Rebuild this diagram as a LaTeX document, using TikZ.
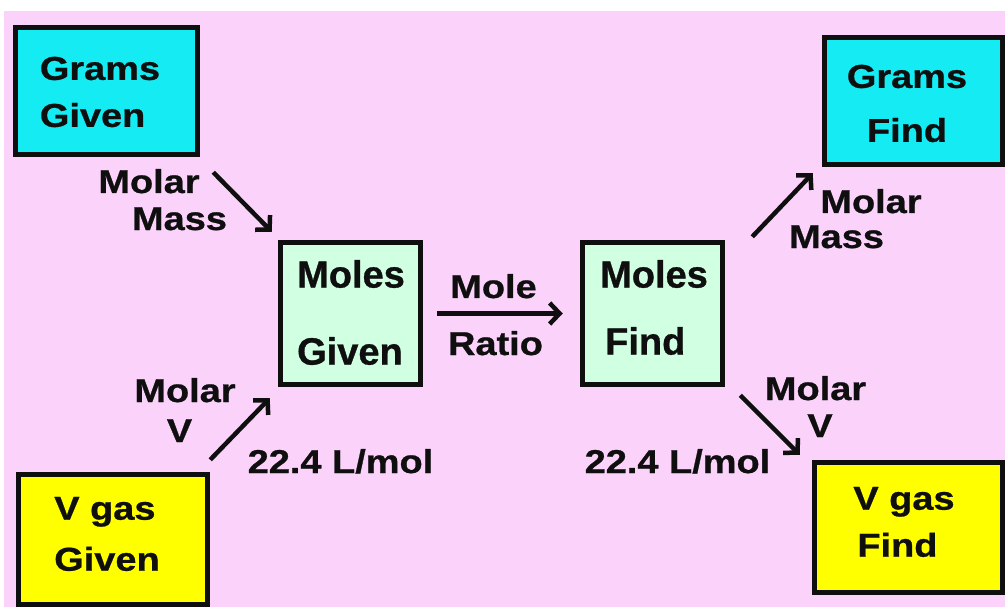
\documentclass[tikz,border=0pt]{standalone}
\usepackage{fontspec}
\newfontfamily\lblfont[FakeStretch=1.15,FakeBold=0.8]{Liberation Sans}
\newfontfamily\molfont[FakeBold=0.8]{Liberation Sans}
\usetikzlibrary{arrows.meta}
\definecolor{bgpink}{RGB}{250,210,250}
\definecolor{boxcyan}{RGB}{20,235,242}
\definecolor{boxgreen}{RGB}{208,255,226}
\definecolor{boxyellow}{RGB}{255,255,0}
\definecolor{ink}{RGB}{15,15,15}
\tikzset{
  box/.style={draw=ink, line width=5.5pt, rectangle, inner sep=0pt},
  boxtext/.style={font=\lblfont\bfseries\fontsize{33}{40}\selectfont, inner sep=0pt, text=ink},
  moltext/.style={font=\molfont\bfseries\fontsize{38}{40}\selectfont, inner sep=0pt, text=ink, align=left},
  lbl/.style={font=\lblfont\bfseries\fontsize{33}{40}\selectfont, inner sep=0pt, anchor=base, text=ink},
  arr/.style={draw=ink, line width=4.5pt, -{Straight Barb[length=10pt,width=21pt]}}
}
\begin{document}
\begin{tikzpicture}[x=1pt,y=-1pt]
\useasboundingbox (0,0) rectangle (1005,607);
\fill[white] (0,0) rectangle (1005,607);
\fill[bgpink] (4,11) rectangle (1005,607);

% boxes
\node[box, fill=boxcyan, minimum width=182pt, minimum height=127pt] (gg) at (106.5,91) {};
\node[box, fill=boxcyan, minimum width=178pt, minimum height=127pt] (gf) at (913.5,101) {};
\node[box, fill=boxgreen, minimum width=140pt, minimum height=142pt] (mg) at (350.5,313.5) {};
\node[box, fill=boxgreen, minimum width=140pt, minimum height=142pt] (mf) at (652.5,313.5) {};
\node[box, fill=boxyellow, minimum width=189pt, minimum height=130pt] (vg) at (113,539.5) {};
\node[box, fill=boxyellow, minimum width=188pt, minimum height=130pt] (vf) at (908.5,527.5) {};

% box texts
\node[boxtext, align=left] (ggt) at (100,92) {Grams\\[7pt]Given};
\node[boxtext, align=center] (gft) at (907,103.5) {Grams\\[14pt]Find};
\node[moltext] (mgt) at (351,312.5) {Moles\\[37pt]Given};
\node[moltext] (mft) at (654,307.5) {Moles\\[27pt]\hspace*{5pt}Find};
\node[boxtext, align=left] (vgt) at (107,534) {V gas\\[11pt]Given};
\node[boxtext, align=left] (vft) at (904,522) {V gas\\[7pt]\hspace*{4pt}Find};

% labels
\node[lbl] (l1a) at (149,193) {Molar};
\node[lbl] (l1b) at (179.5,230) {Mass};
\node[lbl] (l2a) at (493.5,298) {Mole};
\node[lbl] (l2b) at (495.5,355) {Ratio};
\node[lbl] (l3a) at (871,213) {Molar};
\node[lbl] (l3b) at (836.5,248) {Mass};
\node[lbl] (l4a) at (185,402) {Molar};
\node[lbl] (l4b) at (179.5,442) {V};
\node[lbl] (l4c) at (340.5,473) {22.4 L/mol};
\node[lbl] (l5a) at (815.5,400) {Molar};
\node[lbl] (l5b) at (820,437) {V};
\node[lbl] (l5c) at (677.5,473) {22.4 L/mol};

% arrows
\draw[arr] ([shift={(13,15)}]gg.south east) -- ([shift={(-6,-8)}]mg.north west);
\draw[arr] ([shift={(14,0)}]mg.east) -- ([shift={(-17,0)}]mf.west);
\draw[arr] ([shift={(27,-3)}]mf.north east) -- ([shift={(-9,6)}]gf.south west);
\draw[arr] ([shift={(0,-12)}]vg.north east) -- ([shift={(-8,11)}]mg.south west);
\draw[arr] ([shift={(15,8)}]mf.south east) -- ([shift={(-12,-5)}]vf.north west);
\end{tikzpicture}
\end{document}
